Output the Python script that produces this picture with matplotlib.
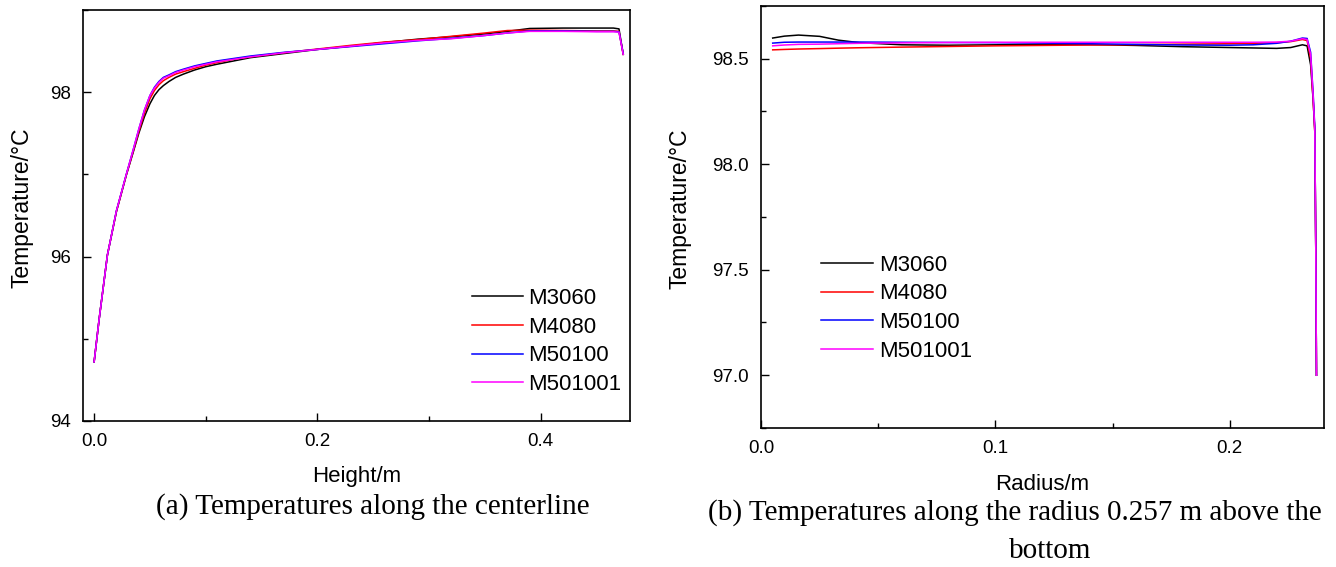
import numpy as np
import matplotlib
matplotlib.use('Agg')
import matplotlib.pyplot as plt
from matplotlib.ticker import MultipleLocator, FormatStrFormatter

plt.rcParams['font.family'] = ['Liberation Sans', 'DejaVu Sans']

labels = ['M3060', 'M4080', 'M50100', 'M501001']
colors = ['black', 'red', 'blue', 'magenta']

# (a) centerline, height in m
height = [0, 0.0044, 0.0119, 0.02, 0.029, 0.035, 0.04, 0.045, 0.05, 0.054, 0.058, 0.062, 0.067,
          0.073, 0.08, 0.09, 0.1, 0.11, 0.125, 0.14, 0.17, 0.2, 0.23, 0.26, 0.29, 0.32, 0.35,
          0.37, 0.39, 0.42, 0.45, 0.465, 0.47, 0.4738]
t_center = {
    'M3060':   [94.72, 95.23, 96.02, 96.55, 97.0, 97.27, 97.5, 97.7, 97.86, 97.96, 98.03, 98.08, 98.13,
                98.18, 98.22, 98.27, 98.31, 98.34, 98.38, 98.42, 98.47, 98.52, 98.56, 98.605, 98.645,
                98.675, 98.71, 98.74, 98.775, 98.78, 98.78, 98.78, 98.77, 98.46],
    'M4080':   [94.72, 95.23, 96.02, 96.55, 97.0, 97.28, 97.52, 97.74, 97.92, 98.02, 98.09, 98.14, 98.18,
                98.22, 98.25, 98.29, 98.33, 98.36, 98.4, 98.43, 98.48, 98.525, 98.57, 98.61, 98.64,
                98.68, 98.72, 98.75, 98.755, 98.75, 98.745, 98.745, 98.74, 98.46],
    'M50100':  [94.72, 95.23, 96.02, 96.56, 97.01, 97.3, 97.55, 97.78, 97.96, 98.06, 98.13, 98.18, 98.21,
                98.25, 98.28, 98.32, 98.35, 98.38, 98.41, 98.44, 98.485, 98.52, 98.555, 98.59, 98.625,
                98.655, 98.69, 98.72, 98.745, 98.745, 98.74, 98.74, 98.735, 98.47],
    'M501001': [94.72, 95.23, 96.02, 96.56, 97.01, 97.3, 97.55, 97.78, 97.96, 98.05, 98.12, 98.17, 98.2,
                98.24, 98.27, 98.31, 98.34, 98.37, 98.4, 98.43, 98.48, 98.52, 98.56, 98.6, 98.63,
                98.65, 98.69, 98.72, 98.74, 98.74, 98.735, 98.735, 98.73, 98.46],
}

# (b) along radius 0.257 m above the bottom
radius = [0.005, 0.01, 0.016, 0.025, 0.033, 0.042, 0.06, 0.08, 0.1, 0.12, 0.14, 0.16, 0.18, 0.2,
          0.21, 0.22, 0.226, 0.231, 0.233, 0.2345, 0.2356, 0.2363, 0.2367, 0.237]
t_radius = {
    'M3060':   [98.597, 98.606, 98.611, 98.605, 98.587, 98.575, 98.565, 98.563, 98.565, 98.567, 98.566, 98.562,
                98.556, 98.552, 98.55, 98.548, 98.552, 98.565, 98.56, 98.47, 98.3, 98.15, 97.6, 97.0],
    'M4080':   [98.541, 98.543, 98.545, 98.547, 98.549, 98.551, 98.554, 98.557, 98.56, 98.562, 98.564, 98.566,
                98.568, 98.57, 98.572, 98.575, 98.58, 98.59, 98.585, 98.5, 98.3, 98.15, 97.6, 97.0],
    'M50100':  [98.573, 98.577, 98.578, 98.578, 98.578, 98.578, 98.577, 98.576, 98.575, 98.573, 98.57, 98.567,
                98.564, 98.563, 98.565, 98.572, 98.582, 98.597, 98.595, 98.53, 98.33, 98.17, 97.6, 97.0],
    'M501001': [98.56, 98.564, 98.567, 98.568, 98.57, 98.572, 98.574, 98.576, 98.577, 98.577, 98.577, 98.577,
                98.577, 98.577, 98.577, 98.578, 98.582, 98.594, 98.59, 98.52, 98.32, 98.16, 97.6, 97.0],
}

fig = plt.figure(figsize=(13.36, 5.67), dpi=100)
ax1 = fig.add_axes([0.0621, 0.2575, 0.4094, 0.7249])
ax2 = fig.add_axes([0.5696, 0.2451, 0.4214, 0.7448])

for lab, c in zip(labels, colors):
    ax1.plot(height, t_center[lab], color=c, lw=1.1, label=lab)
    ax2.plot(radius, t_radius[lab], color=c, lw=1.1, label=lab)

ax1.set_xlim(-0.01, 0.4798)
ax1.set_ylim(94, 99)
ax1.xaxis.set_major_locator(MultipleLocator(0.2))
ax1.xaxis.set_minor_locator(MultipleLocator(0.1))
ax1.yaxis.set_major_locator(MultipleLocator(2))
ax1.yaxis.set_minor_locator(MultipleLocator(1))
ax1.xaxis.set_major_formatter(FormatStrFormatter('%.1f'))
ax1.set_xlabel('Height/m', fontsize=16, labelpad=12)
ax1.set_ylabel('Temperature/°C', fontsize=16.5, labelpad=12, y=0.518)

ax2.set_xlim(0, 0.2402)
ax2.set_ylim(96.75, 98.75)
ax2.xaxis.set_major_locator(MultipleLocator(0.1))
ax2.xaxis.set_minor_locator(MultipleLocator(0.05))
ax2.yaxis.set_major_locator(MultipleLocator(0.5))
ax2.yaxis.set_minor_locator(MultipleLocator(0.25))
ax2.xaxis.set_major_formatter(FormatStrFormatter('%.1f'))
ax2.yaxis.set_major_formatter(FormatStrFormatter('%.1f'))
ax2.set_xlabel('Radius/m', fontsize=16, labelpad=12)
ax2.set_ylabel('Temperature/°C', fontsize=16.5, labelpad=15.5, y=0.519)

for ax in (ax1, ax2):
    ax.tick_params(which='major', direction='in', length=5.5, width=1, labelsize=13.5, pad=8.5)
    ax.tick_params(which='minor', direction='in', length=3.5, width=1)
    ax.tick_params(top=False, right=False, which='both')
    for s in ax.spines.values():
        s.set_linewidth(1.2)

ax1.legend(loc='lower right', bbox_to_anchor=(1.004, 0.036), frameon=False, fontsize=16,
           handlelength=2.3, handletextpad=0.2, labelspacing=0.35, borderpad=0)
ax2.legend(loc='lower left', bbox_to_anchor=(0.0876, 0.13), frameon=False, fontsize=16,
           handlelength=2.3, handletextpad=0.3, labelspacing=0.35, borderpad=0)

serif = ['Liberation Serif', 'DejaVu Serif']
fig.text(373 / 1336, 1 - 507 / 567, '(a) Temperatures along the centerline', family=serif,
         fontsize=21, ha='center', va='center')
fig.text(1015 / 1336, 1 - 513 / 567, '(b) Temperatures along the radius 0.257 m above the',
         family=serif, fontsize=21, ha='center', va='center')
fig.text(1050 / 1336, 1 - 551 / 567, 'bottom', family=serif, fontsize=21, ha='center', va='center')

fig.savefig('out.png', dpi=100)
